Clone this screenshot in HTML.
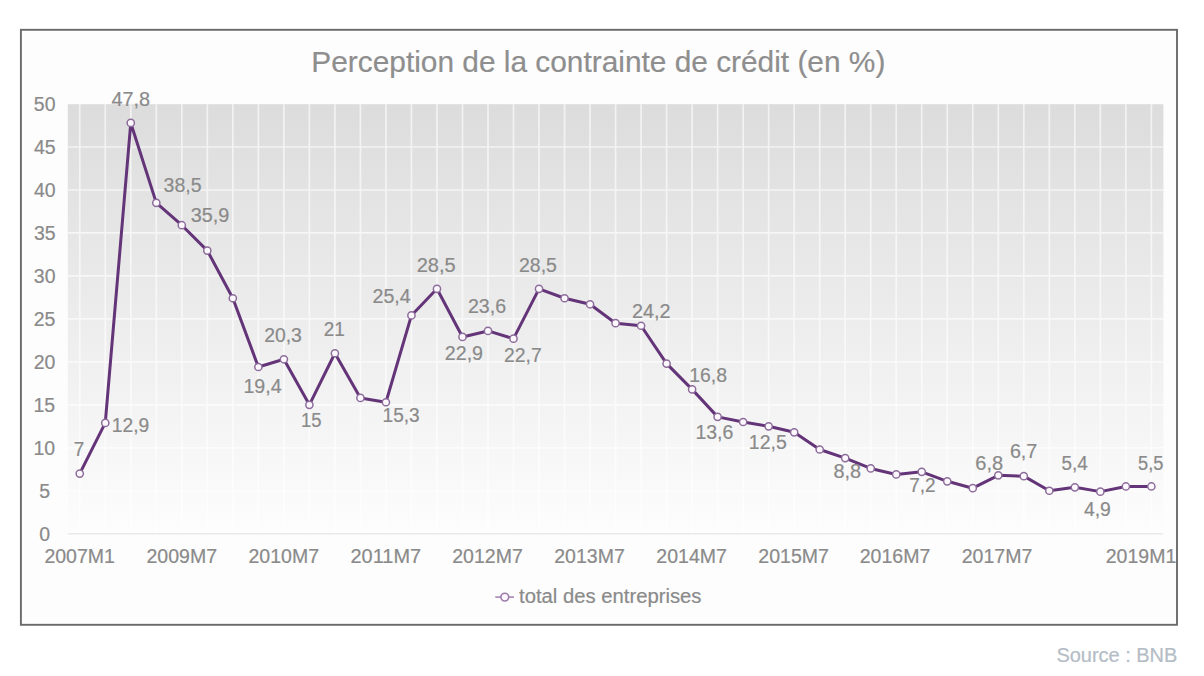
<!DOCTYPE html>
<html><head><meta charset="utf-8"><style>
html,body{margin:0;padding:0;background:#fff;}
body{width:1204px;height:676px;overflow:hidden;font-family:"Liberation Sans",sans-serif;}
svg{display:block;}
</style></head><body>
<svg width="1204" height="676" viewBox="0 0 1204 676" font-family="'Liberation Sans', sans-serif">
<defs><linearGradient id="g" x1="0" y1="0" x2="0" y2="1"><stop offset="0" stop-color="#dcdcdc"/><stop offset="1" stop-color="#fdfdfd"/></linearGradient></defs>
<rect x="20.9" y="29.8" width="1156.1" height="595" fill="#fdfdfd" stroke="#6a6a6a" stroke-width="1.9"/>
<text x="311.35" y="71.70" font-size="30" textLength="574.00" lengthAdjust="spacingAndGlyphs" fill="#8e8e8e" stroke="#8e8e8e" stroke-width="0.2" >Perception de la contrainte de crédit (en %)</text>
<rect x="67.8" y="104.20" width="1095.60" height="429.54" fill="url(#g)"/>
<path d="M79.75 104.20V533.74 M105.27 104.20V533.74 M130.78 104.20V533.74 M156.30 104.20V533.74 M181.81 104.20V533.74 M207.32 104.20V533.74 M232.84 104.20V533.74 M258.36 104.20V533.74 M283.87 104.20V533.74 M309.38 104.20V533.74 M334.90 104.20V533.74 M360.42 104.20V533.74 M385.93 104.20V533.74 M411.44 104.20V533.74 M436.96 104.20V533.74 M462.48 104.20V533.74 M487.99 104.20V533.74 M513.50 104.20V533.74 M539.02 104.20V533.74 M564.54 104.20V533.74 M590.05 104.20V533.74 M615.57 104.20V533.74 M641.08 104.20V533.74 M666.60 104.20V533.74 M692.11 104.20V533.74 M717.62 104.20V533.74 M743.14 104.20V533.74 M768.65 104.20V533.74 M794.17 104.20V533.74 M819.69 104.20V533.74 M845.20 104.20V533.74 M870.72 104.20V533.74 M896.23 104.20V533.74 M921.75 104.20V533.74 M947.26 104.20V533.74 M972.77 104.20V533.74 M998.29 104.20V533.74 M1023.81 104.20V533.74 M1049.32 104.20V533.74 M1074.84 104.20V533.74 M1100.35 104.20V533.74 M1125.87 104.20V533.74 M1151.38 104.20V533.74 M67.8 490.77H1163.4 M67.8 447.80H1163.4 M67.8 404.83H1163.4 M67.8 361.86H1163.4 M67.8 318.89H1163.4 M67.8 275.92H1163.4 M67.8 232.95H1163.4 M67.8 189.98H1163.4 M67.8 147.01H1163.4" stroke="#ffffff" stroke-opacity="0.62" stroke-width="1.7" fill="none"/>
<path d="M67.8 533.74H1163.4" stroke="#eaeaea" stroke-width="1.6" fill="none"/>
<text x="39.28" y="540.54" font-size="19.5" textLength="10.84" lengthAdjust="spacingAndGlyphs" fill="#8a8a8a" stroke="#8a8a8a" stroke-width="0.2" >0</text>
<text x="39.30" y="497.57" font-size="19.5" textLength="10.84" lengthAdjust="spacingAndGlyphs" fill="#8a8a8a" stroke="#8a8a8a" stroke-width="0.2" >5</text>
<text x="33.49" y="454.60" font-size="19.5" textLength="21.69" lengthAdjust="spacingAndGlyphs" fill="#8a8a8a" stroke="#8a8a8a" stroke-width="0.2" >10</text>
<text x="33.52" y="411.63" font-size="19.5" textLength="21.69" lengthAdjust="spacingAndGlyphs" fill="#8a8a8a" stroke="#8a8a8a" stroke-width="0.2" >15</text>
<text x="33.75" y="368.66" font-size="19.5" textLength="21.69" lengthAdjust="spacingAndGlyphs" fill="#8a8a8a" stroke="#8a8a8a" stroke-width="0.2" >20</text>
<text x="33.77" y="325.69" font-size="19.5" textLength="21.69" lengthAdjust="spacingAndGlyphs" fill="#8a8a8a" stroke="#8a8a8a" stroke-width="0.2" >25</text>
<text x="33.86" y="282.72" font-size="19.5" textLength="21.69" lengthAdjust="spacingAndGlyphs" fill="#8a8a8a" stroke="#8a8a8a" stroke-width="0.2" >30</text>
<text x="33.89" y="239.75" font-size="19.5" textLength="21.69" lengthAdjust="spacingAndGlyphs" fill="#8a8a8a" stroke="#8a8a8a" stroke-width="0.2" >35</text>
<text x="34.01" y="196.78" font-size="19.5" textLength="21.69" lengthAdjust="spacingAndGlyphs" fill="#8a8a8a" stroke="#8a8a8a" stroke-width="0.2" >40</text>
<text x="34.04" y="153.81" font-size="19.5" textLength="21.69" lengthAdjust="spacingAndGlyphs" fill="#8a8a8a" stroke="#8a8a8a" stroke-width="0.2" >45</text>
<text x="33.85" y="110.84" font-size="19.5" textLength="21.69" lengthAdjust="spacingAndGlyphs" fill="#8a8a8a" stroke="#8a8a8a" stroke-width="0.2" >50</text>
<text x="44.42" y="563.40" font-size="19.5" textLength="70.53" lengthAdjust="spacingAndGlyphs" fill="#8a8a8a" stroke="#8a8a8a" stroke-width="0.2" >2007M1</text>
<text x="146.52" y="563.40" font-size="19.5" textLength="70.56" lengthAdjust="spacingAndGlyphs" fill="#8a8a8a" stroke="#8a8a8a" stroke-width="0.2" >2009M7</text>
<text x="248.52" y="563.40" font-size="19.5" textLength="70.56" lengthAdjust="spacingAndGlyphs" fill="#8a8a8a" stroke="#8a8a8a" stroke-width="0.2" >2010M7</text>
<text x="350.52" y="563.40" font-size="19.5" textLength="70.56" lengthAdjust="spacingAndGlyphs" fill="#8a8a8a" stroke="#8a8a8a" stroke-width="0.2" >2011M7</text>
<text x="452.22" y="563.40" font-size="19.5" textLength="70.56" lengthAdjust="spacingAndGlyphs" fill="#8a8a8a" stroke="#8a8a8a" stroke-width="0.2" >2012M7</text>
<text x="554.22" y="563.40" font-size="19.5" textLength="70.56" lengthAdjust="spacingAndGlyphs" fill="#8a8a8a" stroke="#8a8a8a" stroke-width="0.2" >2013M7</text>
<text x="656.32" y="563.40" font-size="19.5" textLength="70.56" lengthAdjust="spacingAndGlyphs" fill="#8a8a8a" stroke="#8a8a8a" stroke-width="0.2" >2014M7</text>
<text x="758.32" y="563.40" font-size="19.5" textLength="70.56" lengthAdjust="spacingAndGlyphs" fill="#8a8a8a" stroke="#8a8a8a" stroke-width="0.2" >2015M7</text>
<text x="859.72" y="563.40" font-size="19.5" textLength="70.56" lengthAdjust="spacingAndGlyphs" fill="#8a8a8a" stroke="#8a8a8a" stroke-width="0.2" >2016M7</text>
<text x="961.72" y="563.40" font-size="19.5" textLength="70.56" lengthAdjust="spacingAndGlyphs" fill="#8a8a8a" stroke="#8a8a8a" stroke-width="0.2" >2017M7</text>
<text x="1105.72" y="563.40" font-size="19.5" textLength="70.53" lengthAdjust="spacingAndGlyphs" fill="#8a8a8a" stroke="#8a8a8a" stroke-width="0.2" >2019M1</text>
<polyline points="79.75,473.58 105.27,422.88 130.78,122.95 156.30,202.87 181.81,225.22 207.32,250.57 232.84,298.26 258.36,367.02 283.87,359.28 309.38,404.83 334.90,353.27 360.42,397.95 385.93,402.25 411.44,315.45 436.96,288.81 462.48,336.94 487.99,330.92 513.50,338.66 539.02,288.81 564.54,298.26 590.05,304.28 615.57,323.19 641.08,325.77 666.60,363.58 692.11,389.36 717.62,416.86 743.14,422.02 768.65,426.31 794.17,432.33 819.69,449.52 845.20,458.11 870.72,468.43 896.23,474.44 921.75,471.86 947.26,481.32 972.77,488.19 998.29,475.30 1023.81,476.16 1049.32,490.77 1074.84,487.33 1100.35,491.63 1125.87,486.47 1151.38,486.47" fill="none" stroke="#643478" stroke-width="3" stroke-linejoin="round"/>
<circle cx="79.75" cy="473.58" r="3.6" fill="#fdf8fe" stroke="#8c6c9a" stroke-width="1.5"/>
<circle cx="105.27" cy="422.88" r="3.6" fill="#fdf8fe" stroke="#8c6c9a" stroke-width="1.5"/>
<circle cx="130.78" cy="122.95" r="3.6" fill="#fdf8fe" stroke="#8c6c9a" stroke-width="1.5"/>
<circle cx="156.30" cy="202.87" r="3.6" fill="#fdf8fe" stroke="#8c6c9a" stroke-width="1.5"/>
<circle cx="181.81" cy="225.22" r="3.6" fill="#fdf8fe" stroke="#8c6c9a" stroke-width="1.5"/>
<circle cx="207.32" cy="250.57" r="3.6" fill="#fdf8fe" stroke="#8c6c9a" stroke-width="1.5"/>
<circle cx="232.84" cy="298.26" r="3.6" fill="#fdf8fe" stroke="#8c6c9a" stroke-width="1.5"/>
<circle cx="258.36" cy="367.02" r="3.6" fill="#fdf8fe" stroke="#8c6c9a" stroke-width="1.5"/>
<circle cx="283.87" cy="359.28" r="3.6" fill="#fdf8fe" stroke="#8c6c9a" stroke-width="1.5"/>
<circle cx="309.38" cy="404.83" r="3.6" fill="#fdf8fe" stroke="#8c6c9a" stroke-width="1.5"/>
<circle cx="334.90" cy="353.27" r="3.6" fill="#fdf8fe" stroke="#8c6c9a" stroke-width="1.5"/>
<circle cx="360.42" cy="397.95" r="3.6" fill="#fdf8fe" stroke="#8c6c9a" stroke-width="1.5"/>
<circle cx="385.93" cy="402.25" r="3.6" fill="#fdf8fe" stroke="#8c6c9a" stroke-width="1.5"/>
<circle cx="411.44" cy="315.45" r="3.6" fill="#fdf8fe" stroke="#8c6c9a" stroke-width="1.5"/>
<circle cx="436.96" cy="288.81" r="3.6" fill="#fdf8fe" stroke="#8c6c9a" stroke-width="1.5"/>
<circle cx="462.48" cy="336.94" r="3.6" fill="#fdf8fe" stroke="#8c6c9a" stroke-width="1.5"/>
<circle cx="487.99" cy="330.92" r="3.6" fill="#fdf8fe" stroke="#8c6c9a" stroke-width="1.5"/>
<circle cx="513.50" cy="338.66" r="3.6" fill="#fdf8fe" stroke="#8c6c9a" stroke-width="1.5"/>
<circle cx="539.02" cy="288.81" r="3.6" fill="#fdf8fe" stroke="#8c6c9a" stroke-width="1.5"/>
<circle cx="564.54" cy="298.26" r="3.6" fill="#fdf8fe" stroke="#8c6c9a" stroke-width="1.5"/>
<circle cx="590.05" cy="304.28" r="3.6" fill="#fdf8fe" stroke="#8c6c9a" stroke-width="1.5"/>
<circle cx="615.57" cy="323.19" r="3.6" fill="#fdf8fe" stroke="#8c6c9a" stroke-width="1.5"/>
<circle cx="641.08" cy="325.77" r="3.6" fill="#fdf8fe" stroke="#8c6c9a" stroke-width="1.5"/>
<circle cx="666.60" cy="363.58" r="3.6" fill="#fdf8fe" stroke="#8c6c9a" stroke-width="1.5"/>
<circle cx="692.11" cy="389.36" r="3.6" fill="#fdf8fe" stroke="#8c6c9a" stroke-width="1.5"/>
<circle cx="717.62" cy="416.86" r="3.6" fill="#fdf8fe" stroke="#8c6c9a" stroke-width="1.5"/>
<circle cx="743.14" cy="422.02" r="3.6" fill="#fdf8fe" stroke="#8c6c9a" stroke-width="1.5"/>
<circle cx="768.65" cy="426.31" r="3.6" fill="#fdf8fe" stroke="#8c6c9a" stroke-width="1.5"/>
<circle cx="794.17" cy="432.33" r="3.6" fill="#fdf8fe" stroke="#8c6c9a" stroke-width="1.5"/>
<circle cx="819.69" cy="449.52" r="3.6" fill="#fdf8fe" stroke="#8c6c9a" stroke-width="1.5"/>
<circle cx="845.20" cy="458.11" r="3.6" fill="#fdf8fe" stroke="#8c6c9a" stroke-width="1.5"/>
<circle cx="870.72" cy="468.43" r="3.6" fill="#fdf8fe" stroke="#8c6c9a" stroke-width="1.5"/>
<circle cx="896.23" cy="474.44" r="3.6" fill="#fdf8fe" stroke="#8c6c9a" stroke-width="1.5"/>
<circle cx="921.75" cy="471.86" r="3.6" fill="#fdf8fe" stroke="#8c6c9a" stroke-width="1.5"/>
<circle cx="947.26" cy="481.32" r="3.6" fill="#fdf8fe" stroke="#8c6c9a" stroke-width="1.5"/>
<circle cx="972.77" cy="488.19" r="3.6" fill="#fdf8fe" stroke="#8c6c9a" stroke-width="1.5"/>
<circle cx="998.29" cy="475.30" r="3.6" fill="#fdf8fe" stroke="#8c6c9a" stroke-width="1.5"/>
<circle cx="1023.81" cy="476.16" r="3.6" fill="#fdf8fe" stroke="#8c6c9a" stroke-width="1.5"/>
<circle cx="1049.32" cy="490.77" r="3.6" fill="#fdf8fe" stroke="#8c6c9a" stroke-width="1.5"/>
<circle cx="1074.84" cy="487.33" r="3.6" fill="#fdf8fe" stroke="#8c6c9a" stroke-width="1.5"/>
<circle cx="1100.35" cy="491.63" r="3.6" fill="#fdf8fe" stroke="#8c6c9a" stroke-width="1.5"/>
<circle cx="1125.87" cy="486.47" r="3.6" fill="#fdf8fe" stroke="#8c6c9a" stroke-width="1.5"/>
<circle cx="1151.38" cy="486.47" r="3.6" fill="#fdf8fe" stroke="#8c6c9a" stroke-width="1.5"/>
<text x="73.63" y="456.30" font-size="19.5" textLength="10.52" lengthAdjust="spacingAndGlyphs" fill="#8a8a8a" stroke="#8a8a8a" stroke-width="0.2" >7</text>
<text x="111.73" y="432.30" font-size="19.5" textLength="37.48" lengthAdjust="spacingAndGlyphs" fill="#8a8a8a" stroke="#8a8a8a" stroke-width="0.2" >12,9</text>
<text x="111.44" y="106.30" font-size="19.5" textLength="38.62" lengthAdjust="spacingAndGlyphs" fill="#8a8a8a" stroke="#8a8a8a" stroke-width="0.2" >47,8</text>
<text x="163.56" y="192.30" font-size="19.5" textLength="37.96" lengthAdjust="spacingAndGlyphs" fill="#8a8a8a" stroke="#8a8a8a" stroke-width="0.2" >38,5</text>
<text x="190.74" y="221.90" font-size="19.5" textLength="38.59" lengthAdjust="spacingAndGlyphs" fill="#8a8a8a" stroke="#8a8a8a" stroke-width="0.2" >35,9</text>
<text x="243.41" y="393.10" font-size="19.5" textLength="38.17" lengthAdjust="spacingAndGlyphs" fill="#8a8a8a" stroke="#8a8a8a" stroke-width="0.2" >19,4</text>
<text x="264.13" y="341.80" font-size="19.5" textLength="37.73" lengthAdjust="spacingAndGlyphs" fill="#8a8a8a" stroke="#8a8a8a" stroke-width="0.2" >20,3</text>
<text x="301.10" y="427.00" font-size="19.5" textLength="20.48" lengthAdjust="spacingAndGlyphs" fill="#8a8a8a" stroke="#8a8a8a" stroke-width="0.2" >15</text>
<text x="323.75" y="336.00" font-size="19.5" textLength="21.08" lengthAdjust="spacingAndGlyphs" fill="#8a8a8a" stroke="#8a8a8a" stroke-width="0.2" >21</text>
<text x="382.55" y="421.80" font-size="19.5" textLength="37.09" lengthAdjust="spacingAndGlyphs" fill="#8a8a8a" stroke="#8a8a8a" stroke-width="0.2" >15,3</text>
<text x="372.51" y="303.20" font-size="19.5" textLength="38.16" lengthAdjust="spacingAndGlyphs" fill="#8a8a8a" stroke="#8a8a8a" stroke-width="0.2" >25,4</text>
<text x="416.69" y="271.70" font-size="19.5" textLength="38.95" lengthAdjust="spacingAndGlyphs" fill="#8a8a8a" stroke="#8a8a8a" stroke-width="0.2" >28,5</text>
<text x="444.81" y="359.70" font-size="19.5" textLength="38.22" lengthAdjust="spacingAndGlyphs" fill="#8a8a8a" stroke="#8a8a8a" stroke-width="0.2" >22,9</text>
<text x="467.91" y="313.10" font-size="19.5" textLength="38.15" lengthAdjust="spacingAndGlyphs" fill="#8a8a8a" stroke="#8a8a8a" stroke-width="0.2" >23,6</text>
<text x="504.03" y="362.10" font-size="19.5" textLength="37.65" lengthAdjust="spacingAndGlyphs" fill="#8a8a8a" stroke="#8a8a8a" stroke-width="0.2" >22,7</text>
<text x="519.02" y="271.70" font-size="19.5" textLength="37.90" lengthAdjust="spacingAndGlyphs" fill="#8a8a8a" stroke="#8a8a8a" stroke-width="0.2" >28,5</text>
<text x="632.01" y="318.00" font-size="19.5" textLength="38.49" lengthAdjust="spacingAndGlyphs" fill="#8a8a8a" stroke="#8a8a8a" stroke-width="0.2" >24,2</text>
<text x="689.22" y="382.30" font-size="19.5" textLength="37.82" lengthAdjust="spacingAndGlyphs" fill="#8a8a8a" stroke="#8a8a8a" stroke-width="0.2" >16,8</text>
<text x="695.42" y="439.30" font-size="19.5" textLength="37.84" lengthAdjust="spacingAndGlyphs" fill="#8a8a8a" stroke="#8a8a8a" stroke-width="0.2" >13,6</text>
<text x="748.82" y="449.30" font-size="19.5" textLength="37.90" lengthAdjust="spacingAndGlyphs" fill="#8a8a8a" stroke="#8a8a8a" stroke-width="0.2" >12,5</text>
<text x="833.44" y="478.30" font-size="19.5" textLength="27.63" lengthAdjust="spacingAndGlyphs" fill="#8a8a8a" stroke="#8a8a8a" stroke-width="0.2" >8,8</text>
<text x="909.23" y="491.80" font-size="19.5" textLength="26.43" lengthAdjust="spacingAndGlyphs" fill="#8a8a8a" stroke="#8a8a8a" stroke-width="0.2" >7,2</text>
<text x="975.28" y="469.60" font-size="19.5" textLength="27.89" lengthAdjust="spacingAndGlyphs" fill="#8a8a8a" stroke="#8a8a8a" stroke-width="0.2" >6,8</text>
<text x="1009.90" y="458.20" font-size="19.5" textLength="27.39" lengthAdjust="spacingAndGlyphs" fill="#8a8a8a" stroke="#8a8a8a" stroke-width="0.2" >6,7</text>
<text x="1061.45" y="470.10" font-size="19.5" textLength="26.21" lengthAdjust="spacingAndGlyphs" fill="#8a8a8a" stroke="#8a8a8a" stroke-width="0.2" >5,4</text>
<text x="1083.95" y="515.80" font-size="19.5" textLength="26.96" lengthAdjust="spacingAndGlyphs" fill="#8a8a8a" stroke="#8a8a8a" stroke-width="0.2" >4,9</text>
<text x="1138.07" y="469.60" font-size="19.5" textLength="25.40" lengthAdjust="spacingAndGlyphs" fill="#8a8a8a" stroke="#8a8a8a" stroke-width="0.2" >5,5</text>
<path d="M495.3 597.1H514" stroke="#a684b4" stroke-width="1.6"/>
<circle cx="504.8" cy="597.1" r="3.9" fill="#fdf8fe" stroke="#9c7cab" stroke-width="1.6"/>
<text x="519.09" y="603.00" font-size="19.5" textLength="182.34" lengthAdjust="spacingAndGlyphs" fill="#8a8a8a" stroke="#8a8a8a" stroke-width="0.2" >total des entreprises</text>
<text x="1056.39" y="662.00" font-size="20" textLength="120.96" lengthAdjust="spacingAndGlyphs" fill="#b4bcc6" stroke="#b4bcc6" stroke-width="0.2" >Source : BNB</text>
</svg>
</body></html>
